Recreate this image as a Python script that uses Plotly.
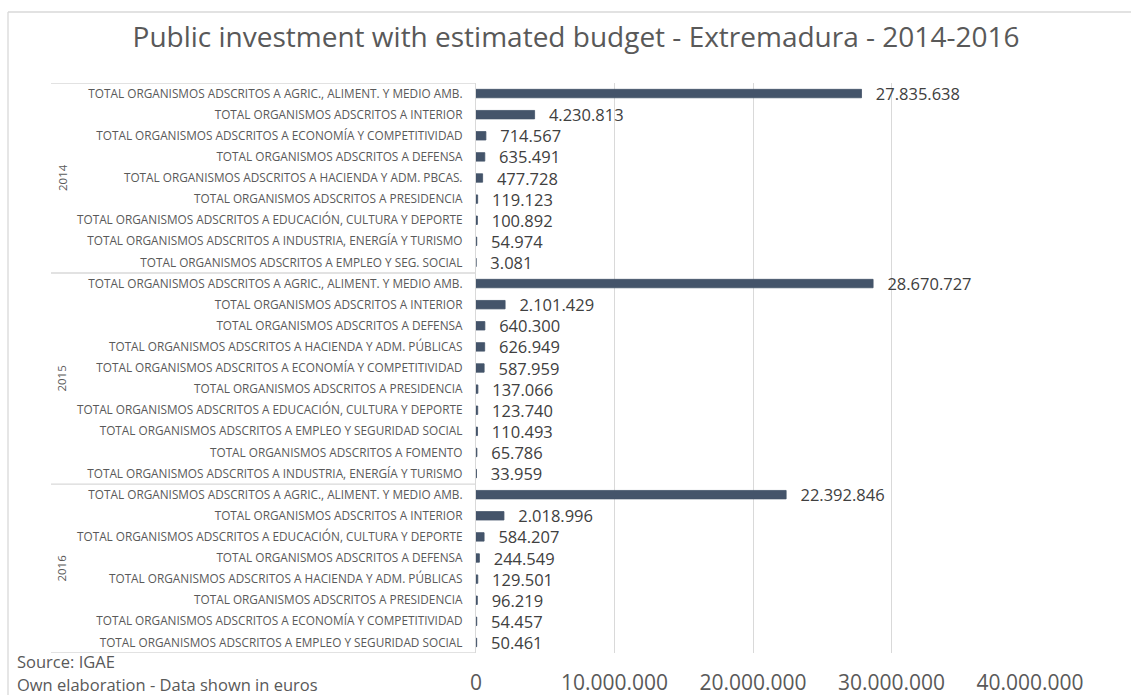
import plotly.graph_objects as go

# Investment per ministry group (euros), grouped by year, listed top to bottom
years = ["2014", "2015", "2016"]

labels_2014 = [
    "TOTAL ORGANISMOS ADSCRITOS A AGRIC., ALIMENT. Y MEDIO AMB.",
    "TOTAL ORGANISMOS ADSCRITOS A INTERIOR",
    "TOTAL ORGANISMOS ADSCRITOS A ECONOMÍA Y COMPETITIVIDAD",
    "TOTAL ORGANISMOS ADSCRITOS A DEFENSA",
    "TOTAL ORGANISMOS ADSCRITOS A HACIENDA Y ADM. PBCAS.",
    "TOTAL ORGANISMOS ADSCRITOS A PRESIDENCIA",
    "TOTAL ORGANISMOS ADSCRITOS A EDUCACIÓN, CULTURA Y DEPORTE",
    "TOTAL ORGANISMOS ADSCRITOS A INDUSTRIA, ENERGÍA Y TURISMO",
    "TOTAL ORGANISMOS ADSCRITOS A EMPLEO Y SEG. SOCIAL",
]
values_2014 = [27835638, 4230813, 714567, 635491, 477728, 119123, 100892, 54974, 3081]

labels_2015 = [
    "TOTAL ORGANISMOS ADSCRITOS A AGRIC., ALIMENT. Y MEDIO AMB.",
    "TOTAL ORGANISMOS ADSCRITOS A INTERIOR",
    "TOTAL ORGANISMOS ADSCRITOS A DEFENSA",
    "TOTAL ORGANISMOS ADSCRITOS A HACIENDA Y ADM. PÚBLICAS",
    "TOTAL ORGANISMOS ADSCRITOS A ECONOMÍA Y COMPETITIVIDAD",
    "TOTAL ORGANISMOS ADSCRITOS A PRESIDENCIA",
    "TOTAL ORGANISMOS ADSCRITOS A EDUCACIÓN, CULTURA Y DEPORTE",
    "TOTAL ORGANISMOS ADSCRITOS A EMPLEO Y SEGURIDAD SOCIAL",
    "TOTAL ORGANISMOS ADSCRITOS A FOMENTO",
    "TOTAL ORGANISMOS ADSCRITOS A INDUSTRIA, ENERGÍA Y TURISMO",
]
values_2015 = [28670727, 2101429, 640300, 626949, 587959, 137066, 123740, 110493, 65786, 33959]

labels_2016 = [
    "TOTAL ORGANISMOS ADSCRITOS A AGRIC., ALIMENT. Y MEDIO AMB.",
    "TOTAL ORGANISMOS ADSCRITOS A INTERIOR",
    "TOTAL ORGANISMOS ADSCRITOS A EDUCACIÓN, CULTURA Y DEPORTE",
    "TOTAL ORGANISMOS ADSCRITOS A DEFENSA",
    "TOTAL ORGANISMOS ADSCRITOS A HACIENDA Y ADM. PÚBLICAS",
    "TOTAL ORGANISMOS ADSCRITOS A PRESIDENCIA",
    "TOTAL ORGANISMOS ADSCRITOS A ECONOMÍA Y COMPETITIVIDAD",
    "TOTAL ORGANISMOS ADSCRITOS A EMPLEO Y SEGURIDAD SOCIAL",
]
values_2016 = [22392846, 2018996, 584207, 244549, 129501, 96219, 54457, 50461]

x_tick_values = [0, 10000000, 20000000, 30000000, 40000000]

groups = [(years[0], labels_2014, values_2014),
          (years[1], labels_2015, values_2015),
          (years[2], labels_2016, values_2016)]

# Flatten into row positions (0 = top row)
row_pos, row_labels, row_values = [], [], []
group_spans = []
i = 0
for yr, labs, vals in groups:
    start = i
    for lab, v in zip(labs, vals):
        row_pos.append(i)
        row_labels.append(lab)
        row_values.append(v)
        i += 1
    group_spans.append((yr, start, i - 1))
n_rows = i


def fmt_es(v):
    return f"{v:,}".replace(",", ".")


# Small gap between bar end and its value label
GAP = "\u00a0\u00a0\u2009"
bar_text = [GAP + fmt_es(v) for v in row_values]

# Page geometry (pixels)
W, H = 1131, 695
ML, MR, MT, MB = 476, 101, 83, 42
PW, PH = W - ML - MR, H - MT - MB


def px_x(px):
    return (px - ML) / PW


def px_y(py):
    return (H - MB - py) / PH


GRID = "#d9d9d9"
TXT = "#595959"
BAR = "#44546A"
FONT = "Open Sans"

fig = go.Figure(go.Bar(
    x=row_values,
    y=row_pos,
    orientation="h",
    width=0.4,
    marker=dict(color=BAR, line=dict(color=BAR, width=0.8)),
    text=bar_text,
    textposition="outside",
    constraintext="none",
    cliponaxis=False,
    textfont=dict(family=FONT, size=16.5, color="#404040"),
    hoverinfo="skip",
))

shapes = []
# Category box lines: top, group separators, bottom
for yv in [-0.5] + [end + 0.5 for _, _, end in group_spans]:
    shapes.append(dict(type="line", xref="paper", yref="y",
                       x0=px_x(51), x1=0, y0=yv, y1=yv,
                       line=dict(color=GRID, width=1.3)))
# Outer chart border (top and left edges)
shapes.append(dict(type="line", xref="paper", yref="paper",
                   x0=px_x(8), x1=px_x(1140), y0=px_y(12), y1=px_y(12),
                   line=dict(color=GRID, width=1.3)))
shapes.append(dict(type="line", xref="paper", yref="paper",
                   x0=px_x(8), x1=px_x(8), y0=px_y(12), y1=px_y(700),
                   line=dict(color=GRID, width=1.3)))

annotations = []
for yr, s, e in group_spans:
    annotations.append(dict(text=yr, xref="paper", yref="y",
                            x=px_x(62), y=(s + e) / 2, textangle=-90,
                            showarrow=False, xanchor="center", yanchor="middle",
                            font=dict(family=FONT, size=11.5, color=TXT)))
annotations.append(dict(text="Source: IGAE", xref="paper", yref="paper",
                        x=px_x(15), y=px_y(661), xanchor="left", yanchor="middle",
                        showarrow=False, font=dict(family=FONT, size=16.5, color=TXT)))
annotations.append(dict(text="Own elaboration - Data shown in euros", xref="paper", yref="paper",
                        x=px_x(15), y=px_y(684), xanchor="left", yanchor="middle",
                        showarrow=False, font=dict(family=FONT, size=16.5, color=TXT)))

fig.update_layout(
    width=W, height=H,
    margin=dict(l=ML, r=MR, t=MT, b=MB, pad=0, autoexpand=False),
    paper_bgcolor="white", plot_bgcolor="white",
    showlegend=False,
    title=dict(text="Public investment with estimated budget - Extremadura - 2014-2016",
               x=576 / W, xanchor="center",
               y=1 - 37 / H, yanchor="middle",
               font=dict(family=FONT, size=28, color=TXT)),
    xaxis=dict(range=[0, 40000000], tickvals=x_tick_values,
               ticktext=[fmt_es(v) for v in x_tick_values],
               showgrid=True, gridcolor=GRID, gridwidth=1.3,
               zeroline=False, showline=False, ticks="",
               ticklabelstandoff=15, automargin=False,
               tickfont=dict(family=FONT, size=21, color=TXT), fixedrange=True),
    yaxis=dict(range=[n_rows - 0.5, -0.5], tickvals=row_pos, ticktext=row_labels,
               showgrid=False, zeroline=False, showline=True, linecolor=GRID, linewidth=1.3,
               ticks="", ticklabelstandoff=10, automargin=False,
               tickfont=dict(family=FONT, size=11.8, color=TXT), fixedrange=True),
    shapes=shapes,
    annotations=annotations,
)

fig.write_html("out.html")
